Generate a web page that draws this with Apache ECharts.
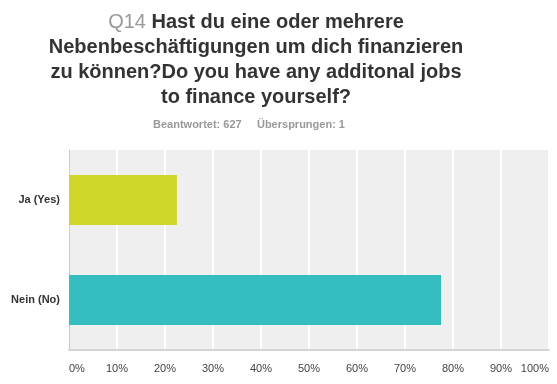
<!DOCTYPE html>
<html>
<head>
<meta charset="utf-8">
<script src="https://cdn.jsdelivr.net/npm/echarts@6/dist/echarts.min.js"></script>
<style>
html,body{margin:0;padding:0;background:#fff;}
#chart{width:557px;height:384px;}
</style>
</head>
<body>
<div id="chart"></div>
<script>
var categories = ['Ja (Yes)', 'Nein (No)'];
var values = [22.49, 77.51];
var barColors = ['#d0d72b', '#35bec1'];
var tickLabels = ['0%', '10%', '20%', '30%', '40%', '50%', '60%', '70%', '80%', '90%', '100%'];
var questionNo = 'Q14';
var titleLines = ['Hast du eine oder mehrere', 'Nebenbeschäftigungen um dich finanzieren', 'zu können?Do you have any additonal jobs', 'to finance yourself?'];
var answered = 627;
var skipped = 1;

var FONT = '"Liberation Sans", Arial, sans-serif';
var chart = echarts.init(document.getElementById('chart'), null, {renderer: 'canvas'});

var titleText = '{q|' + questionNo + '} {b|' + titleLines[0] + '}';
for (var i = 1; i < titleLines.length; i++) titleText += '\n{b|' + titleLines[i] + '}';

chart.setOption({
  animation: false,
  backgroundColor: '#ffffff',
  title: [
    {
      text: titleText,
      left: 251,
      top: 5,
      textAlign: 'center',
      textStyle: {
        fontFamily: FONT,
        fontSize: 20,
        lineHeight: 25,
        rich: {
          q: {fontFamily: FONT, fontSize: 20, lineHeight: 25, color: '#999999', fontWeight: 'normal'},
          b: {fontFamily: FONT, fontSize: 20, lineHeight: 25, color: '#333333', fontWeight: 'bold'}
        }
      }
    },
    {
      text: 'Beantwortet: ' + answered + '     Übersprungen: ' + skipped,
      left: 244,
      top: 114,
      textAlign: 'center',
      textStyle: {fontFamily: FONT, fontSize: 11, fontWeight: 'bold', color: '#999999'}
    }
  ],
  grid: {
    left: 69, right: 8, top: 150, bottom: 34,
    show: true, backgroundColor: '#efefef', borderWidth: 0,
    containLabel: false
  },
  xAxis: {
    type: 'value',
    min: 0, max: 100, interval: 10,
    axisLine: {show: true, lineStyle: {color: '#d4d4d4', width: 2}},
    axisTick: {show: false},
    splitLine: {show: true, lineStyle: {color: '#ffffff', width: 2}},
    axisLabel: {
      fontFamily: FONT, fontSize: 11, color: '#444444', margin: 13,
      alignMinLabel: 'left', alignMaxLabel: 'right',
      formatter: function (v) { return tickLabels[Math.round(v / 10)]; }
    }
  },
  yAxis: {
    type: 'category',
    data: categories,
    inverse: true,
    axisLine: {show: true, lineStyle: {color: '#cccccc', width: 1}},
    axisTick: {show: false},
    splitLine: {show: false},
    axisLabel: {fontFamily: FONT, fontSize: 11, fontWeight: 'bold', color: '#333333', margin: 9}
  },
  series: [{
    type: 'bar',
    barWidth: 50,
    data: values.map(function (v, i) { return {value: v, itemStyle: {color: barColors[i]}}; })
  }]
});
</script>
</body>
</html>
